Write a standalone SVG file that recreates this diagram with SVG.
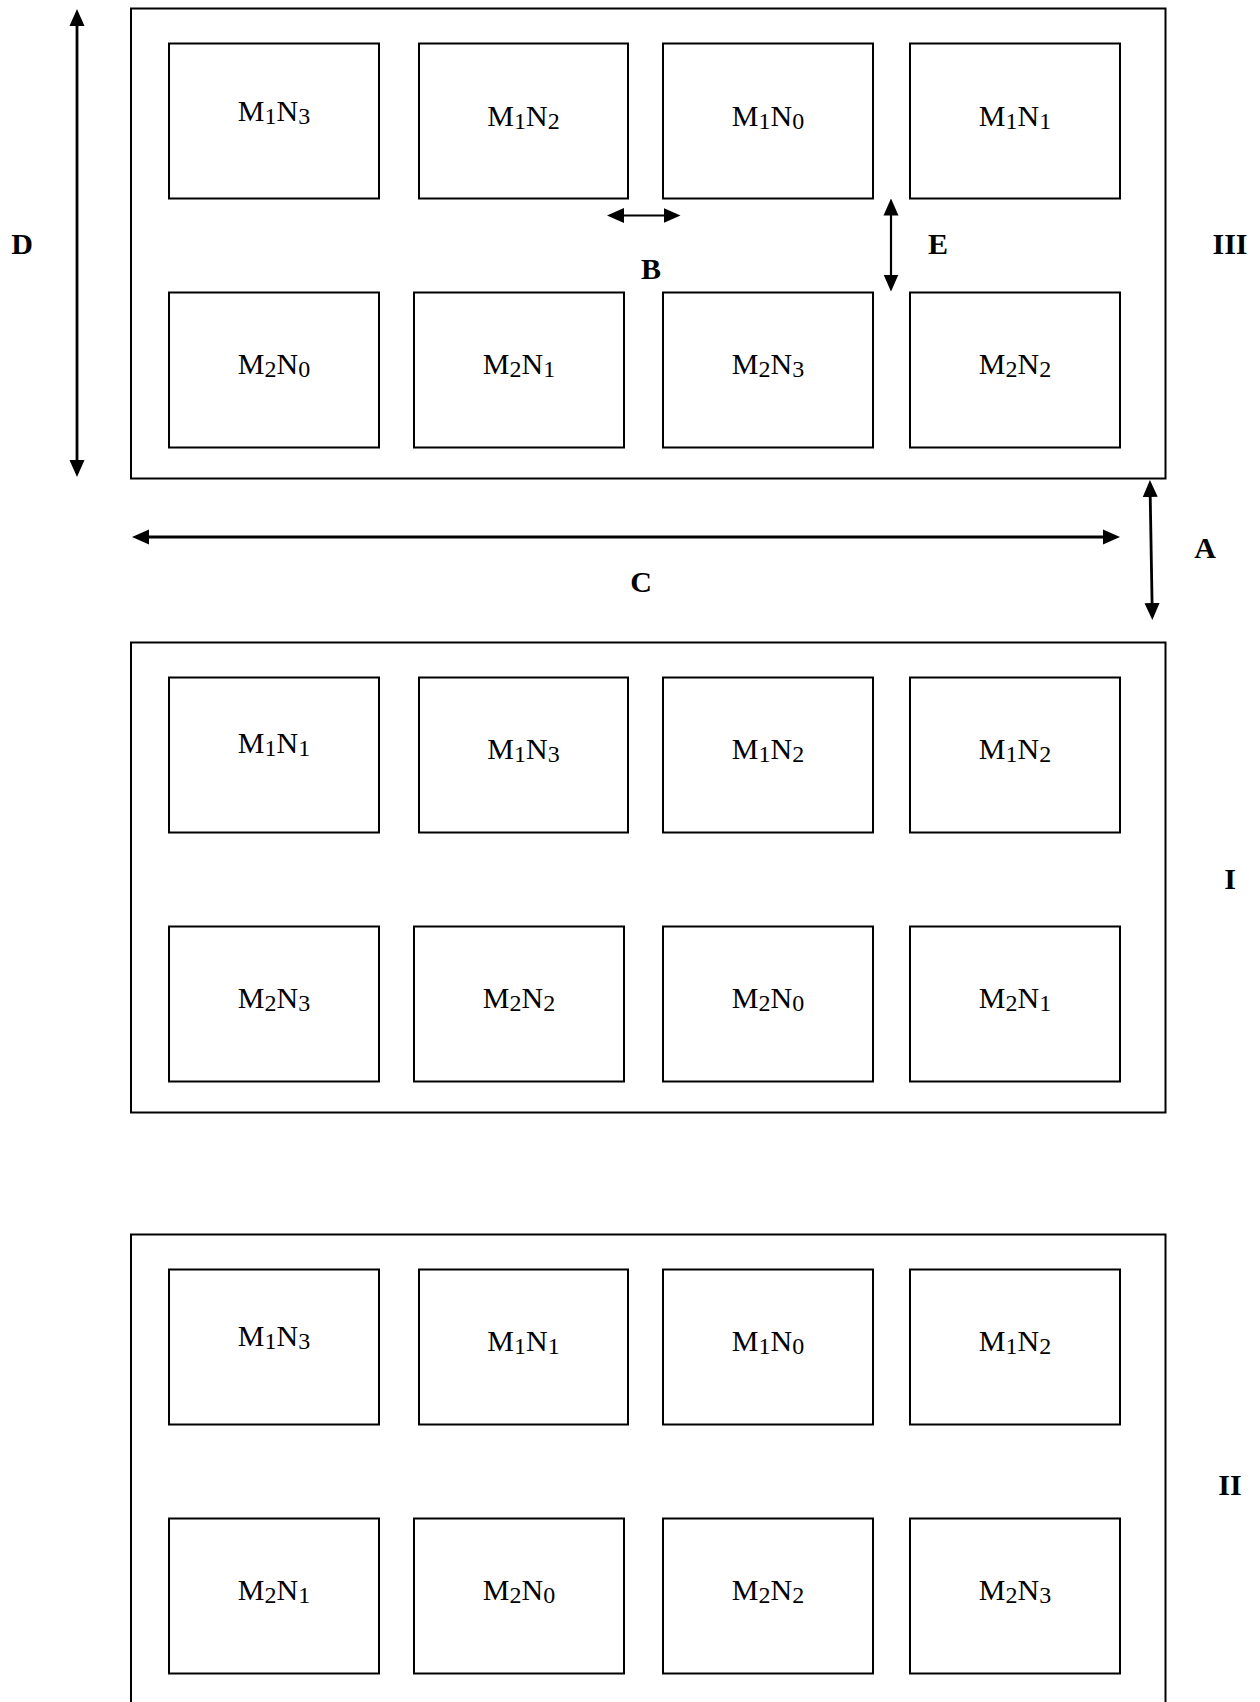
<svg xmlns="http://www.w3.org/2000/svg" width="1260" height="1702" viewBox="0 0 1260 1702">
  <style>
    .frame { fill: #fff; stroke: #000; stroke-width: 2; }
    .cell { fill: #fff; stroke: #000; stroke-width: 2; }
    .lbl { font-family: "Liberation Serif", "Times New Roman", serif; font-size: 30px; fill: #000; text-anchor: middle; }
    .sub { font-size: 24px; }
    .tag { font-family: "Liberation Serif", "Times New Roman", serif; font-size: 30px; font-weight: bold; fill: #000; text-anchor: middle; }
    .dim { fill: none; stroke: #000; stroke-width: 2.8; marker-start: url(#head); marker-end: url(#head); }
    .dim.thin { stroke-width: 2.2; }
  </style>
  <defs>
    <marker id="head" viewBox="0 0 17 16" refX="13" refY="8" markerWidth="17" markerHeight="16" markerUnits="userSpaceOnUse" orient="auto-start-reverse">
      <path d="M0,0.5 L17,8 L0,15.5 z" fill="#000"/>
    </marker>
  </defs>
  <rect width="1260" height="1702" fill="#fff"/>

  <!-- Layout III -->
  <g id="panel-III">
    <rect class="frame" x="131" y="8.5" width="1034.5" height="470"/>
    <g id="III-M1N3"><rect class="cell" x="169" y="43.5" width="210" height="155"/><text class="lbl" x="274" y="121">M<tspan class="sub" dy="3">1</tspan><tspan dy="-3">N</tspan><tspan class="sub" dy="3">3</tspan></text></g>
    <g id="III-M1N2"><rect class="cell" x="419" y="43.5" width="209" height="155"/><text class="lbl" x="523.5" y="125.5">M<tspan class="sub" dy="3">1</tspan><tspan dy="-3">N</tspan><tspan class="sub" dy="3">2</tspan></text></g>
    <g id="III-M1N0"><rect class="cell" x="663" y="43.5" width="210" height="155"/><text class="lbl" x="768" y="125.5">M<tspan class="sub" dy="3">1</tspan><tspan dy="-3">N</tspan><tspan class="sub" dy="3">0</tspan></text></g>
    <g id="III-M1N1"><rect class="cell" x="910" y="43.5" width="210" height="155"/><text class="lbl" x="1015" y="125.5">M<tspan class="sub" dy="3">1</tspan><tspan dy="-3">N</tspan><tspan class="sub" dy="3">1</tspan></text></g>
    <g id="III-M2N0"><rect class="cell" x="169" y="292.5" width="210" height="155"/><text class="lbl" x="274" y="373.5">M<tspan class="sub" dy="3">2</tspan><tspan dy="-3">N</tspan><tspan class="sub" dy="3">0</tspan></text></g>
    <g id="III-M2N1"><rect class="cell" x="414" y="292.5" width="210" height="155"/><text class="lbl" x="519" y="373.5">M<tspan class="sub" dy="3">2</tspan><tspan dy="-3">N</tspan><tspan class="sub" dy="3">1</tspan></text></g>
    <g id="III-M2N3"><rect class="cell" x="663" y="292.5" width="210" height="155"/><text class="lbl" x="768" y="373.5">M<tspan class="sub" dy="3">2</tspan><tspan dy="-3">N</tspan><tspan class="sub" dy="3">3</tspan></text></g>
    <g id="III-M2N2"><rect class="cell" x="910" y="292.5" width="210" height="155"/><text class="lbl" x="1015" y="373.5">M<tspan class="sub" dy="3">2</tspan><tspan dy="-3">N</tspan><tspan class="sub" dy="3">2</tspan></text></g>
  </g>

  <!-- Layout I -->
  <g id="panel-I">
    <rect class="frame" x="131" y="642.5" width="1034.5" height="470"/>
    <g id="I-M1N1"><rect class="cell" x="169" y="677.5" width="210" height="155"/><text class="lbl" x="274" y="753">M<tspan class="sub" dy="3">1</tspan><tspan dy="-3">N</tspan><tspan class="sub" dy="3">1</tspan></text></g>
    <g id="I-M1N3"><rect class="cell" x="419" y="677.5" width="209" height="155"/><text class="lbl" x="523.5" y="758.5">M<tspan class="sub" dy="3">1</tspan><tspan dy="-3">N</tspan><tspan class="sub" dy="3">3</tspan></text></g>
    <g id="I-M1N2a"><rect class="cell" x="663" y="677.5" width="210" height="155"/><text class="lbl" x="768" y="758.5">M<tspan class="sub" dy="3">1</tspan><tspan dy="-3">N</tspan><tspan class="sub" dy="3">2</tspan></text></g>
    <g id="I-M1N2b"><rect class="cell" x="910" y="677.5" width="210" height="155"/><text class="lbl" x="1015" y="758.5">M<tspan class="sub" dy="3">1</tspan><tspan dy="-3">N</tspan><tspan class="sub" dy="3">2</tspan></text></g>
    <g id="I-M2N3"><rect class="cell" x="169" y="926.5" width="210" height="155"/><text class="lbl" x="274" y="1007.5">M<tspan class="sub" dy="3">2</tspan><tspan dy="-3">N</tspan><tspan class="sub" dy="3">3</tspan></text></g>
    <g id="I-M2N2"><rect class="cell" x="414" y="926.5" width="210" height="155"/><text class="lbl" x="519" y="1007.5">M<tspan class="sub" dy="3">2</tspan><tspan dy="-3">N</tspan><tspan class="sub" dy="3">2</tspan></text></g>
    <g id="I-M2N0"><rect class="cell" x="663" y="926.5" width="210" height="155"/><text class="lbl" x="768" y="1007.5">M<tspan class="sub" dy="3">2</tspan><tspan dy="-3">N</tspan><tspan class="sub" dy="3">0</tspan></text></g>
    <g id="I-M2N1"><rect class="cell" x="910" y="926.5" width="210" height="155"/><text class="lbl" x="1015" y="1007.5">M<tspan class="sub" dy="3">2</tspan><tspan dy="-3">N</tspan><tspan class="sub" dy="3">1</tspan></text></g>
  </g>

  <!-- Layout II (frame runs past the bottom edge) -->
  <g id="panel-II">
    <rect class="frame" x="131" y="1234.5" width="1034.5" height="480"/>
    <g id="II-M1N3"><rect class="cell" x="169" y="1269.5" width="210" height="155"/><text class="lbl" x="274" y="1345.5">M<tspan class="sub" dy="3">1</tspan><tspan dy="-3">N</tspan><tspan class="sub" dy="3">3</tspan></text></g>
    <g id="II-M1N1"><rect class="cell" x="419" y="1269.5" width="209" height="155"/><text class="lbl" x="523.5" y="1351">M<tspan class="sub" dy="3">1</tspan><tspan dy="-3">N</tspan><tspan class="sub" dy="3">1</tspan></text></g>
    <g id="II-M1N0"><rect class="cell" x="663" y="1269.5" width="210" height="155"/><text class="lbl" x="768" y="1351">M<tspan class="sub" dy="3">1</tspan><tspan dy="-3">N</tspan><tspan class="sub" dy="3">0</tspan></text></g>
    <g id="II-M1N2"><rect class="cell" x="910" y="1269.5" width="210" height="155"/><text class="lbl" x="1015" y="1351">M<tspan class="sub" dy="3">1</tspan><tspan dy="-3">N</tspan><tspan class="sub" dy="3">2</tspan></text></g>
    <g id="II-M2N1"><rect class="cell" x="169" y="1518.5" width="210" height="155"/><text class="lbl" x="274" y="1600">M<tspan class="sub" dy="3">2</tspan><tspan dy="-3">N</tspan><tspan class="sub" dy="3">1</tspan></text></g>
    <g id="II-M2N0"><rect class="cell" x="414" y="1518.5" width="210" height="155"/><text class="lbl" x="519" y="1600">M<tspan class="sub" dy="3">2</tspan><tspan dy="-3">N</tspan><tspan class="sub" dy="3">0</tspan></text></g>
    <g id="II-M2N2"><rect class="cell" x="663" y="1518.5" width="210" height="155"/><text class="lbl" x="768" y="1600">M<tspan class="sub" dy="3">2</tspan><tspan dy="-3">N</tspan><tspan class="sub" dy="3">2</tspan></text></g>
    <g id="II-M2N3"><rect class="cell" x="910" y="1518.5" width="210" height="155"/><text class="lbl" x="1015" y="1600">M<tspan class="sub" dy="3">2</tspan><tspan dy="-3">N</tspan><tspan class="sub" dy="3">3</tspan></text></g>
  </g>

  <!-- dimension arrows -->
  <g id="connectors">
    <line id="dim-D" class="dim" x1="77" y1="13" x2="77" y2="473"/>
    <line id="dim-B" class="dim thin" x1="611" y1="215.5" x2="676.5" y2="215.5"/>
    <line id="dim-E" class="dim thin" x1="891" y1="202.5" x2="891" y2="287.5"/>
    <line id="dim-A" class="dim" x1="1150" y1="484" x2="1152.3" y2="616"/>
    <line id="dim-C" class="dim" x1="136" y1="537" x2="1116" y2="537"/>
  </g>

  <!-- dimension and layout tags -->
  <g id="tags">
    <text class="tag" x="22" y="254">D</text>
    <text class="tag" x="651" y="279">B</text>
    <text class="tag" x="938" y="254">E</text>
    <text class="tag" x="1230" y="254">III</text>
    <text class="tag" x="1205" y="558">A</text>
    <text class="tag" x="641" y="592">C</text>
    <text class="tag" x="1230" y="889">I</text>
    <text class="tag" x="1230" y="1495">II</text>
  </g>
</svg>
